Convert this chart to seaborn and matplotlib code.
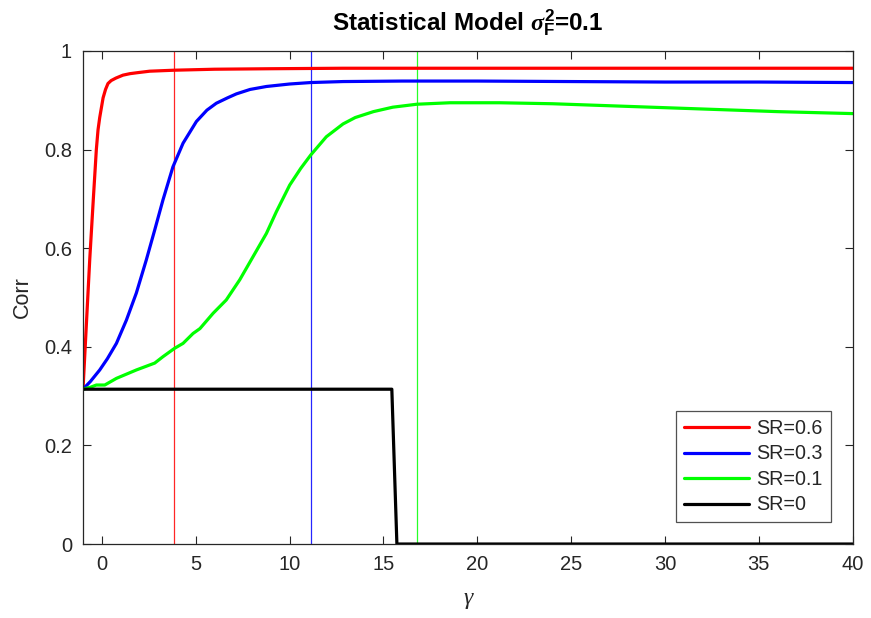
import matplotlib
matplotlib.use("Agg")
import matplotlib.pyplot as plt
import seaborn as sns
import pandas as pd

# ---- data ----
red_x = [-1, -0.64, -0.45, -0.29, -0.2, -0.11, 0.07, 0.2, 0.33, 0.5, 0.75, 1.13, 1.5, 1.9, 2.55,
         3.85, 6, 9, 12.85, 20, 30, 40]
red_y = [0.314, 0.578, 0.70, 0.80, 0.84, 0.865, 0.905, 0.922, 0.934, 0.940, 0.945, 0.951, 0.954,
         0.956, 0.959, 0.961, 0.963, 0.964, 0.965, 0.965, 0.965, 0.965]

blue_x = [-1, -0.6, -0.11, 0.3, 0.78, 1.31, 1.84, 2.37, 2.82, 3.26, 3.79, 4.33, 5.04, 5.6, 6.1,
          6.7, 7.17, 7.9, 8.77, 10, 11.13, 12.85, 16, 20, 25, 30, 35, 40]
blue_y = [0.314, 0.33, 0.353, 0.376, 0.407, 0.454, 0.509, 0.576, 0.637, 0.698, 0.765, 0.813, 0.857,
          0.880, 0.894, 0.905, 0.913, 0.922, 0.928, 0.933, 0.936, 0.938, 0.939, 0.939, 0.938,
          0.937, 0.937, 0.936]

green_x = [-1, -0.6, -0.29, 0.16, 0.78, 1.84, 2.82, 3.26, 3.88, 4.33, 4.86, 5.23, 5.93, 6.63, 7.35,
           8.06, 8.77, 9.3, 10.01, 10.6, 11.13, 11.96, 12.85, 13.5, 14.47, 15.5, 16.78, 18.55,
           21.2, 24, 27, 30, 33, 36, 40]
green_y = [0.314, 0.318, 0.3225, 0.3225, 0.336, 0.353, 0.367, 0.380, 0.397, 0.407, 0.427, 0.437,
           0.468, 0.495, 0.536, 0.583, 0.630, 0.674, 0.728, 0.762, 0.789, 0.826, 0.852, 0.865,
           0.877, 0.886, 0.892, 0.895, 0.895, 0.893, 0.889, 0.885, 0.881, 0.877, 0.873]

black_x = [-1, 15.45, 15.72, 40]
black_y = [0.314, 0.314, 0.0, 0.0]

labels = ["SR=0.6", "SR=0.3", "SR=0.1", "SR=0"]
colors = ["#ff0000", "#0000ff", "#00ff00", "#000000"]
vlines = [3.85, 11.13, 16.8]
vline_colors = ["#ff0000", "#0000ff", "#00ff00"]

x_ticks = [0, 5, 10, 15, 20, 25, 30, 35, 40]
y_ticks = [0, 0.2, 0.4, 0.6, 0.8, 1]
y_tick_labels = ["0", "0.2", "0.4", "0.6", "0.8", "1"]

title_text = r"Statistical Model $\sigma_{\mathrm{F}}^{\mathrm{2}}$=0.1"
xlabel_text = "γ"
ylabel_text = "Corr"

# ---- style ----
sns.set_style("white")
plt.rcParams["font.family"] = ["Liberation Sans", "DejaVu Sans"]
plt.rcParams["mathtext.fontset"] = "custom"
plt.rcParams["mathtext.it"] = "Liberation Serif:italic:bold"
plt.rcParams["mathtext.rm"] = "Liberation Sans:bold"
plt.rcParams["mathtext.bf"] = "Liberation Sans:bold"

axis_col = "#262626"

fig = plt.figure(figsize=(8.71, 6.18), dpi=100)
ax = fig.add_axes([0.0953, 0.1197, 0.979 - 0.0953, 0.9175 - 0.1197])

series = [(red_x, red_y), (blue_x, blue_y), (green_x, green_y), (black_x, black_y)]
for (xs, ys), lab, col in zip(series, labels, colors):
    df = pd.DataFrame({"x": xs, "y": ys})
    sns.lineplot(data=df, x="x", y="y", ax=ax, color=col, lw=2.3, label=lab,
                 estimator=None, sort=False)

for v, c in zip(vlines, vline_colors):
    ax.axvline(v, color=c, lw=0.9, alpha=0.85, zorder=1)

ax.set_xlim(-1, 40)
ax.set_ylim(0, 1)
ax.set_xticks(x_ticks)
ax.set_yticks(y_ticks)
ax.set_yticklabels(y_tick_labels)

ax.tick_params(axis="both", direction="in", length=5.8, width=0.8, color=axis_col,
               labelcolor=axis_col, labelsize=14.5, top=True, right=True,
               bottom=True, left=True, pad=8)
for sp in ax.spines.values():
    sp.set_color(axis_col)
    sp.set_linewidth(0.9)
    sp.set_visible(True)

ax.set_xlabel(xlabel_text, fontsize=17, family="Liberation Serif", style="italic",
              color=axis_col, labelpad=10)
ax.set_ylabel(ylabel_text, fontsize=15.5, color=axis_col, labelpad=8)
ax.set_title(title_text, fontsize=17.5, fontweight="bold", color="black", pad=14)

leg = ax.legend(loc="lower right", bbox_to_anchor=(0.9718, 0.044), borderaxespad=0,
                fontsize=14.2, frameon=True, fancybox=False, edgecolor="#262626",
                handlelength=3.3, handletextpad=0.4, labelspacing=0.33,
                borderpad=0.4)
leg.get_frame().set_linewidth(0.9)
for t in leg.get_texts():
    t.set_color(axis_col)

fig.savefig("out.png", dpi=100, facecolor="white")
